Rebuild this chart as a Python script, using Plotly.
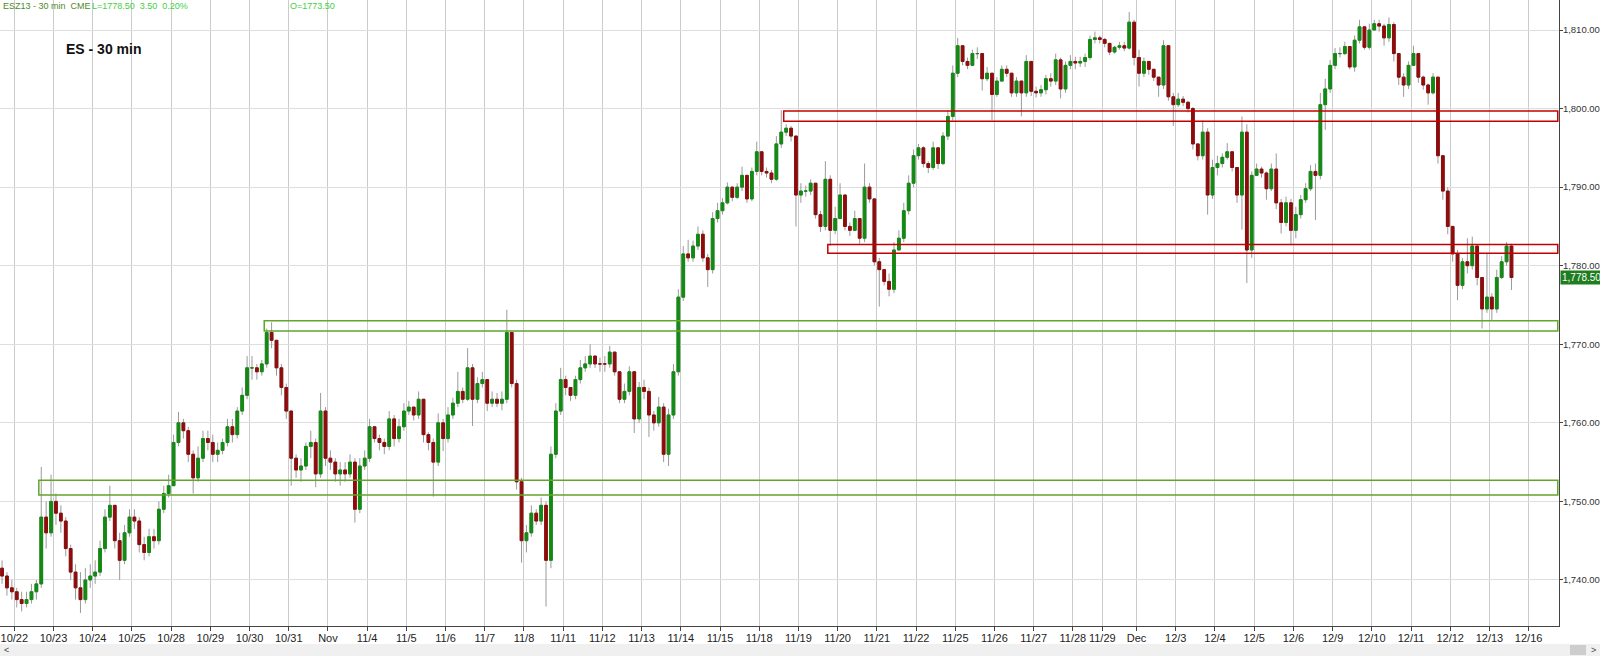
import plotly.graph_objects as go

# ---------------- data ----------------
session_labels = ["10/22", "10/23", "10/24", "10/25", "10/28", "10/29", "10/30", "10/31", "Nov",
                  "11/4", "11/5", "11/6", "11/7", "11/8", "11/11", "11/12", "11/13", "11/14",
                  "11/15", "11/18", "11/19", "11/20", "11/21", "11/22", "11/25", "11/26", "11/27",
                  "11/28", "11/29", "Dec", "12/3", "12/4", "12/5", "12/6", "12/9", "12/10",
                  "12/11", "12/12", "12/13", "12/16"]
# bar slots per session (10/22 .. 12/13); 11/28 and 11/29 were short sessions
session_slots = [8] * 27 + [6, 7] + [8] * 10
pre_slots = 3          # tail of the 10/21 session shown before the first label

first_open = 1741.5

closes = [
    1740.5, 1739.0, 1738.5,                                          # 10/21 tail
    1737.5, 1737.0, 1737.5, 1738.5, 1739.5, 1748.0, 1746.0, 1750.0,  # 10/22
    1748.5, 1747.5, 1744.0, 1741.0, 1739.0, 1737.5, 1740.0, 1740.5,  # 10/23
    1741.0, 1744.0, 1748.0, 1749.5, 1745.0, 1742.5, 1746.0, 1748.0,  # 10/24
    1747.5, 1744.5, 1743.5, 1745.5, 1745.0, 1749.0, 1751.0, 1752.0,  # 10/25
    1757.5, 1760.0, 1759.0, 1756.0, 1753.0, 1755.5, 1758.0, 1757.5,  # 10/28
    1756.0, 1756.5, 1757.5, 1759.5, 1758.5, 1761.5, 1763.5, 1767.0,  # 10/29
    1767.0, 1766.5, 1767.5, 1771.5, 1770.5, 1767.0, 1764.5, 1761.5,  # 10/30
    1755.5, 1754.0, 1754.5, 1757.0, 1757.5, 1753.5, 1761.5, 1755.5,  # 10/31
    1755.0, 1753.5, 1754.0, 1753.5, 1755.0, 1749.0, 1754.5, 1755.5,  # 11/1
    1759.5, 1758.0, 1757.5, 1757.0, 1760.5, 1758.0, 1759.5, 1761.5,  # 11/4
    1762.0, 1761.0, 1763.0, 1758.5, 1757.5, 1755.0, 1760.0, 1758.0,  # 11/5
    1761.0, 1762.5, 1764.0, 1763.0, 1767.0, 1763.0, 1765.0, 1765.5,  # 11/6
    1762.5, 1763.0, 1762.5, 1763.0, 1771.5, 1765.0, 1752.5, 1745.0,  # 11/7
    1746.0, 1748.5, 1747.5, 1749.5, 1742.5, 1756.0, 1761.5, 1765.5,  # 11/8
    1764.5, 1763.5, 1765.5, 1767.0, 1767.5, 1768.5, 1767.5, 1767.5,  # 11/11
    1767.5, 1769.0, 1766.5, 1763.0, 1764.0, 1766.5, 1760.5, 1764.5,  # 11/12
    1764.0, 1761.0, 1760.0, 1762.0, 1756.0, 1761.0, 1766.5, 1776.0,  # 11/13
    1781.5, 1781.0, 1782.5, 1784.0, 1781.0, 1779.5, 1786.0, 1787.0,  # 11/14
    1788.0, 1790.0, 1788.7, 1790.0, 1791.5, 1788.5, 1792.0, 1794.5,  # 11/15
    1792.0, 1791.8, 1791.0, 1795.5, 1797.0, 1797.5, 1796.5, 1789.0,  # 11/18
    1789.5, 1789.5, 1790.5, 1786.5, 1785.0, 1791.0, 1784.5, 1786.0,  # 11/19
    1789.0, 1785.0, 1784.5, 1786.0, 1783.5, 1790.0, 1788.5, 1780.5,  # 11/20
    1779.5, 1778.0, 1777.0, 1782.0, 1783.5, 1787.0, 1790.5, 1794.0,  # 11/21
    1795.0, 1793.0, 1792.5, 1795.0, 1793.0, 1796.5, 1799.0, 1804.5,  # 11/22
    1808.0, 1806.0, 1805.5, 1807.0, 1807.0, 1803.8, 1804.5, 1801.8,  # 11/25
    1803.5, 1805.0, 1804.5, 1802.0, 1803.5, 1802.0, 1806.0, 1802.2,  # 11/26
    1802.0, 1802.4, 1803.8, 1803.5, 1806.2, 1802.5, 1805.5, 1806.0,  # 11/27
    1805.8, 1806.0, 1806.5, 1808.8, 1809.0, 1808.8,                  # 11/28
    1808.3, 1807.2, 1807.8, 1808.0, 1807.7, 1811.0, 1806.5,          # 11/29
    1804.5, 1806.0, 1805.0, 1804.0, 1803.0, 1808.0, 1801.5, 1800.5,  # 12/2
    1801.2, 1800.8, 1800.0, 1795.5, 1794.0, 1797.0, 1789.0, 1792.5,  # 12/3
    1793.0, 1793.8, 1794.5, 1792.5, 1789.0, 1797.0, 1782.0, 1791.5,  # 12/4
    1792.3, 1791.8, 1789.8, 1792.3, 1788.0, 1785.5, 1788.0, 1784.5,  # 12/5
    1786.5, 1788.4, 1789.8, 1792.0, 1791.5, 1800.5, 1802.5, 1805.5,  # 12/6
    1807.0, 1807.0, 1807.9, 1805.3, 1808.7, 1810.4, 1807.8, 1810.0,  # 12/9
    1810.8, 1810.5, 1809.0, 1810.7, 1807.0, 1804.0, 1803.0, 1805.5,  # 12/10
    1807.0, 1804.0, 1803.0, 1802.0, 1804.0, 1794.0, 1789.5, 1785.0,  # 12/11
    1781.5, 1777.5, 1780.5, 1780.0, 1782.5, 1778.5, 1774.5, 1776.0,  # 12/12
    1774.5, 1778.5, 1780.5, 1782.5, 1778.5,                          # 12/13
]

highs = [
    1742.5, 1741.0, 1740.0,
    1739.0, 1738.5, 1738.5, 1739.5, 1740.0, 1754.4, 1750.0, 1753.4,
    1751.0, 1749.5, 1748.0, 1744.5, 1742.0, 1741.0, 1741.5, 1742.0,
    1742.5, 1745.0, 1749.0, 1752.0, 1749.5, 1746.0, 1747.0, 1749.0,
    1749.0, 1748.0, 1745.5, 1746.5, 1746.5, 1750.0, 1752.0, 1753.4,
    1758.5, 1761.4, 1760.5, 1759.5, 1756.5, 1757.0, 1759.0, 1759.0,
    1758.5, 1757.5, 1758.0, 1760.5, 1760.5, 1762.0, 1764.5, 1768.5,
    1768.5, 1767.5, 1768.0, 1772.0, 1772.8, 1770.5, 1767.5, 1765.0,
    1761.5, 1756.0, 1755.5, 1757.5, 1759.0, 1758.0, 1763.8, 1762.0,
    1756.5, 1755.5, 1755.0, 1755.0, 1756.0, 1755.5, 1755.5, 1756.5,
    1760.5, 1759.0, 1758.5, 1758.0, 1761.5, 1761.0, 1760.5, 1762.5,
    1762.8, 1762.0, 1764.0, 1763.0, 1758.8, 1758.0, 1761.2, 1760.5,
    1762.0, 1763.2, 1766.5, 1764.5, 1769.5, 1767.5, 1765.8, 1766.5,
    1764.5, 1764.0, 1763.8, 1764.0, 1774.4, 1771.5, 1765.5, 1753.0,
    1747.0, 1749.5, 1749.0, 1750.5, 1750.0, 1757.0, 1762.5, 1767.0,
    1766.0, 1764.5, 1766.0, 1768.0, 1768.5, 1770.0, 1768.5, 1768.3,
    1768.5, 1769.8, 1769.0, 1766.5, 1765.0, 1767.2, 1766.5, 1765.2,
    1765.5, 1764.5, 1761.5, 1763.3, 1762.5, 1761.8, 1767.5, 1777.0,
    1782.5, 1783.3, 1783.2, 1785.0, 1784.5, 1781.5, 1786.8, 1788.0,
    1788.6, 1790.6, 1790.0, 1790.5, 1792.6, 1791.5, 1792.5, 1795.8,
    1793.0, 1792.5, 1792.2, 1796.5, 1799.8, 1798.0, 1797.8, 1796.5,
    1790.5, 1790.2, 1791.0, 1790.5, 1787.0, 1793.3, 1791.5, 1787.5,
    1790.5, 1789.0, 1785.5, 1787.0, 1786.0, 1793.0, 1790.5, 1788.5,
    1781.0, 1779.5, 1779.0, 1783.0, 1784.5, 1788.0, 1791.5, 1794.8,
    1795.5, 1795.2, 1793.3, 1795.8, 1795.0, 1797.0, 1799.8, 1805.5,
    1809.0, 1808.0, 1806.5, 1807.5, 1807.8, 1807.0, 1805.3, 1804.5,
    1804.0, 1805.5, 1805.5, 1804.5, 1804.0, 1803.5, 1806.8, 1806.0,
    1802.8, 1803.0, 1804.3, 1804.5, 1807.0, 1806.5, 1806.0, 1806.8,
    1806.6, 1806.6, 1807.0, 1809.3, 1809.8, 1809.3,
    1809.0, 1808.3, 1808.0, 1808.5, 1808.5, 1812.3, 1811.3,
    1807.5, 1806.5, 1806.0, 1805.0, 1804.0, 1808.7, 1808.0, 1802.0,
    1802.0, 1801.6, 1801.0, 1800.2, 1795.5, 1798.5, 1797.5, 1793.5,
    1794.0, 1794.3, 1795.6, 1794.5, 1792.5, 1799.0, 1798.0, 1792.0,
    1793.0, 1792.6, 1792.0, 1793.0, 1794.3, 1788.5, 1788.8, 1788.5,
    1787.5, 1789.0, 1790.5, 1792.8, 1793.0, 1802.0, 1803.8, 1806.2,
    1807.7, 1807.8, 1808.5, 1808.0, 1809.3, 1811.3, 1810.5, 1810.8,
    1811.3, 1811.3, 1810.8, 1811.6, 1811.0, 1807.0, 1804.5, 1806.0,
    1808.0, 1807.0, 1804.2, 1803.2, 1804.5, 1804.0, 1794.0, 1790.0,
    1784.5, 1782.0, 1781.0, 1783.5, 1783.7, 1782.5, 1778.5, 1781.6,
    1776.5, 1779.5, 1781.2, 1783.0, 1782.8,
]

lows = [
    1739.5, 1738.0, 1737.5,
    1736.5, 1736.0, 1736.5, 1737.0, 1737.5, 1739.0, 1744.0, 1745.5,
    1747.0, 1746.0, 1743.0, 1740.0, 1737.5, 1735.8, 1737.0, 1739.0,
    1739.5, 1740.5, 1743.5, 1747.5, 1744.0, 1740.0, 1742.0, 1745.5,
    1746.5, 1743.5, 1742.5, 1743.0, 1744.0, 1744.5, 1748.5, 1750.5,
    1752.0, 1757.0, 1758.0, 1755.0, 1751.0, 1752.5, 1755.0, 1756.5,
    1755.0, 1755.0, 1756.0, 1757.0, 1757.5, 1758.0, 1761.0, 1763.0,
    1765.5, 1765.5, 1766.0, 1767.0, 1769.5, 1766.0, 1763.5, 1760.5,
    1752.0, 1753.0, 1752.5, 1754.0, 1755.5, 1751.8, 1753.0, 1754.5,
    1754.0, 1752.5, 1752.0, 1752.5, 1753.0, 1747.3, 1748.5, 1754.0,
    1755.0, 1757.5, 1756.5, 1756.0, 1756.5, 1757.0, 1757.5, 1759.0,
    1761.0, 1760.3, 1760.5, 1757.5, 1756.5, 1750.6, 1754.5, 1756.4,
    1757.5, 1760.5, 1762.0, 1762.5, 1762.8, 1759.6, 1762.5, 1764.5,
    1761.5, 1762.0, 1762.0, 1761.6, 1762.5, 1764.5, 1751.5, 1742.2,
    1743.5, 1745.5, 1747.0, 1747.0, 1736.6, 1741.5, 1755.5, 1761.0,
    1763.5, 1762.8, 1763.0, 1765.0, 1766.5, 1767.0, 1767.0, 1766.5,
    1766.5, 1767.0, 1766.0, 1762.5, 1762.5, 1763.5, 1758.7, 1760.0,
    1763.0, 1758.2, 1759.0, 1759.5, 1755.0, 1754.5, 1760.5, 1766.0,
    1775.5, 1780.5, 1780.5, 1782.0, 1780.5, 1777.3, 1779.0, 1785.5,
    1786.5, 1787.8, 1788.2, 1788.5, 1789.5, 1788.0, 1788.2, 1791.5,
    1791.5, 1791.2, 1790.5, 1790.8, 1795.0, 1796.5, 1795.8, 1785.0,
    1788.0, 1788.8, 1789.0, 1786.0, 1784.3, 1784.5, 1782.5, 1784.0,
    1787.5, 1784.5, 1783.8, 1784.5, 1782.8, 1783.0, 1788.0, 1780.0,
    1774.8, 1777.5, 1776.1, 1776.5, 1782.5, 1783.0, 1786.5, 1790.0,
    1793.5, 1792.5, 1791.8, 1792.2, 1792.3, 1792.8, 1796.0, 1798.5,
    1804.0, 1805.5, 1805.0, 1805.5, 1806.3, 1802.3, 1803.5, 1798.5,
    1801.5, 1803.5, 1804.0, 1801.5, 1801.5, 1799.0, 1801.5, 1801.6,
    1801.4, 1801.5, 1801.8, 1802.8, 1803.0, 1801.3, 1802.0, 1805.0,
    1805.0, 1805.3, 1805.3, 1806.2, 1808.3, 1808.3,
    1807.8, 1806.8, 1807.0, 1807.5, 1807.3, 1807.5, 1805.5,
    1802.8, 1804.0, 1804.3, 1803.5, 1801.5, 1802.5, 1801.0, 1797.8,
    1800.2, 1800.3, 1799.5, 1794.8, 1793.4, 1793.5, 1786.5, 1788.5,
    1791.5, 1792.5, 1793.5, 1792.0, 1788.0, 1784.6, 1777.8, 1781.0,
    1791.5, 1791.2, 1788.4, 1789.5, 1787.2, 1784.1, 1785.0, 1782.6,
    1783.5, 1786.0, 1788.0, 1789.5, 1785.8, 1791.0, 1797.3, 1802.0,
    1805.0, 1806.5, 1806.8, 1805.0, 1804.7, 1808.3, 1807.5, 1807.5,
    1810.0, 1809.8, 1808.0, 1808.5, 1806.0, 1803.0, 1801.5, 1802.5,
    1805.5, 1803.3, 1802.4, 1800.5, 1801.8, 1793.0, 1788.4, 1784.0,
    1780.5, 1775.6, 1777.0, 1779.0, 1779.5, 1777.5, 1772.0, 1774.0,
    1773.1, 1774.0, 1778.3, 1780.0, 1776.9,
]

# support / resistance zones drawn on the chart
zone_start_bar = [8, 54, 160, 169]
zone_low = [1750.8, 1771.7, 1798.4, 1781.6]
zone_high = [1752.7, 1773.0, 1799.7, 1782.7]
zone_kind = ["support", "support", "resistance", "resistance"]

last_price = 1778.50
header_left = "ESZ13 - 30 min  CME"
header_quote = "L=1778.50  3.50  0.20%"
header_open = "O=1773.50"
chart_title = "ES - 30 min"

# ---------------- derived ----------------
n = len(closes)
x = list(range(n))
opens = [first_open] + closes[:-1]
hi = [max(h, o, c) for h, o, c in zip(highs, opens, closes)]
lo = [min(l, o, c) for l, o, c in zip(lows, opens, closes)]
body_hi = [max(o, c) for o, c in zip(opens, closes)]
body_lo = [min(o, c) for o, c in zip(opens, closes)]

tick_edges = [pre_slots + sum(session_slots[:k]) for k in range(len(session_labels))]
tickvals = [e - 0.5 for e in tick_edges]

# ---------------- style ----------------
W, H = 1600, 656
ML, MR, MT, MB = 0, 41, 0, 30
PW, PH = W - ML - MR, H - MT - MB
px_per_bar = 4.9007
x_range = [(0 + 0.4) / px_per_bar - 0.5, (PW + 0.4) / px_per_bar - 0.5]
y_range = [1734.14, 1813.82]

UP = "#138a13"
DOWN = "#8e0c0c"
WICK = "#9a9a9a"
ZONE_COL = {"support": "#62a52c", "resistance": "#c40000"}
NARROW = "Liberation Sans Narrow, Arial Narrow, Liberation Sans, Arial"

fig = go.Figure()
fig.add_trace(go.Candlestick(
    x=x, open=opens, high=hi, low=lo, close=closes,
    increasing=dict(line=dict(color=WICK, width=1), fillcolor=WICK),
    decreasing=dict(line=dict(color=WICK, width=1), fillcolor=WICK),
    showlegend=False, hoverinfo="skip"))
fig.add_trace(go.Candlestick(
    x=x, open=opens, high=body_hi, low=body_lo, close=closes,
    increasing=dict(line=dict(color=UP, width=1), fillcolor=UP),
    decreasing=dict(line=dict(color=DOWN, width=1), fillcolor=DOWN),
    showlegend=False))

shapes = []
for xs, zl, zh, k in zip(zone_start_bar, zone_low, zone_high, zone_kind):
    shapes.append(dict(type="rect", xref="x", yref="y", x0=xs - 0.5, x1=x_range[1] - 0.25,
                       y0=zl, y1=zh, line=dict(color=ZONE_COL[k], width=1.5),
                       fillcolor="rgba(0,0,0,0)", layer="above"))

def py(p):  # pixel row -> paper y
    return (PH - p) / PH

def px(p):  # pixel col -> paper x
    return p / PW

# scrollbar strip below the axis
shapes.append(dict(type="rect", xref="paper", yref="paper", x0=0, x1=px(W), y0=py(644), y1=py(656),
                   fillcolor="#f0f0f0", line=dict(width=0), layer="below"))
shapes.append(dict(type="rect", xref="paper", yref="paper", x0=px(1570), x1=px(1586), y0=py(645), y1=py(655),
                   fillcolor="#cdcdcd", line=dict(width=0)))

annotations = [
    dict(text=header_left, xref="paper", yref="paper", x=px(1), y=py(6.5), xanchor="left", yanchor="middle",
         showarrow=False, font=dict(family="Liberation Sans, Arial", size=9, color="#4f8a1f")),
    dict(text=header_quote, xref="paper", yref="paper", x=px(90), y=py(6.5), xanchor="left", yanchor="middle",
         showarrow=False, font=dict(family="Liberation Sans, Arial", size=9, color="#3fd03f")),
    dict(text=header_open, xref="paper", yref="paper", x=px(288), y=py(6.5), xanchor="left", yanchor="middle",
         showarrow=False, font=dict(family="Liberation Sans, Arial", size=9, color="#3fd03f")),
    dict(text="<b>" + chart_title + "</b>", xref="paper", yref="paper", x=px(64), y=py(49), xanchor="left",
         yanchor="middle", showarrow=False, font=dict(family="Liberation Sans, Arial", size=14, color="#111")),
    dict(text=f"{last_price:,.2f}", xref="paper", yref="y", x=1, y=last_price, xanchor="left", yanchor="middle",
         xshift=1, showarrow=False, bgcolor="#1f7d1f", borderpad=1,
         font=dict(family=NARROW, size=10, color="white")),
    dict(text="&lt;", xref="paper", yref="paper", x=px(6), y=py(650), xanchor="center", yanchor="middle",
         showarrow=False, font=dict(family="Liberation Sans, Arial", size=9, color="#444")),
    dict(text="&gt;", xref="paper", yref="paper", x=px(1593), y=py(650), xanchor="center", yanchor="middle",
         showarrow=False, font=dict(family="Liberation Sans, Arial", size=9, color="#444")),
]

fig.update_layout(
    width=W, height=H,
    margin=dict(l=ML, r=MR, t=MT, b=MB, pad=0),
    paper_bgcolor="white", plot_bgcolor="white",
    showlegend=False, boxgap=0.2,
    shapes=shapes, annotations=annotations,
    xaxis=dict(range=x_range, tickmode="array", tickvals=tickvals, ticktext=session_labels,
               showgrid=True, gridcolor="#cccccc", gridwidth=1, zeroline=False,
               ticks="outside", ticklen=4, tickcolor="#444", showline=True, linecolor="#444", linewidth=1,
               ticklabelstandoff=-2,
               tickfont=dict(family=NARROW, size=11, color="#222"),
               rangeslider=dict(visible=False), fixedrange=True, automargin=False),
    yaxis=dict(side="right", range=y_range, tick0=0, dtick=10, tickformat=",.2f",
               showgrid=True, gridcolor="#dedede", gridwidth=1, zeroline=False,
               ticks="outside", ticklen=3, tickcolor="#444", showline=True, linecolor="#444", linewidth=1,
               ticklabelstandoff=-2,
               tickfont=dict(family=NARROW, size=9.5, color="#333"),
               fixedrange=True, automargin=False),
)

fig.write_html("out.html", config={"displayModeBar": False},
               post_script="document.body.style.margin='0';document.body.style.overflow='hidden';")
